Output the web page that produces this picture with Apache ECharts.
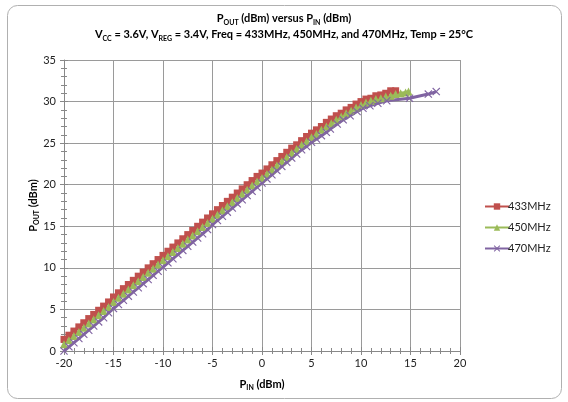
<!DOCTYPE html>
<html>
<head>
<meta charset="utf-8">
<script src="https://cdn.jsdelivr.net/npm/echarts@6/dist/echarts.min.js"></script>
<style>html,body{margin:0;padding:0;background:#fff}#c{width:568px;height:402px}</style>
</head>
<body>
<div id="c"></div>
<script>
// ---- data ----
var pin433 = [-20,-19.5,-19,-18.5,-18,-17.5,-17,-16.5,-16,-15.5,-15,-14.5,-14,-13.5,-13,-12.5,-12,-11.5,-11,-10.5,-10,-9.5,-9,-8.5,-8,-7.5,-7,-6.5,-6,-5.5,-5,-4.5,-4,-3.5,-3,-2.5,-2,-1.5,-1,-0.5,0,0.5,1,1.5,2,2.5,3,3.5,4,4.5,5,5.5,6,6.5,7,7.5,8,8.5,9,9.5,10,10.5,11,11.5,12,12.5,13,13.5];
var pout433 = [1.4,1.9,2.4,2.9,3.4,3.9,4.4,4.9,5.4,5.9,6.5,7.0,7.5,8.0,8.5,9.0,9.5,10.0,10.5,11.0,11.5,12.0,12.5,13.0,13.5,14.0,14.5,15.0,15.5,16.0,16.5,17.0,17.5,18.0,18.5,19.0,19.5,20.0,20.5,21.0,21.4,21.9,22.4,22.9,23.4,23.9,24.4,24.8,25.3,25.8,26.2,26.6,27.0,27.5,27.9,28.3,28.6,29.0,29.3,29.7,30.0,30.3,30.4,30.7,30.8,31.0,31.3,31.3];
var pin450 = [-20,-19.5,-19,-18.5,-18,-17.5,-17,-16.5,-16,-15.5,-15,-14.5,-14,-13.5,-13,-12.5,-12,-11.5,-11,-10.5,-10,-9.5,-9,-8.5,-8,-7.5,-7,-6.5,-6,-5.5,-5,-4.5,-4,-3.5,-3,-2.5,-2,-1.5,-1,-0.5,0,0.5,1,1.5,2,2.5,3,3.5,4,4.5,5,5.5,6,6.5,7,7.5,8,8.5,9,9.5,10,10.5,11,11.5,12,12.5,13,13.5,14,14.5,14.8];
var pout450 = [0.8,1.3,1.8,2.3,2.8,3.3,3.8,4.3,4.8,5.3,5.9,6.4,6.9,7.4,7.9,8.4,8.9,9.4,9.9,10.4,10.9,11.4,11.9,12.4,12.9,13.4,13.9,14.4,14.9,15.4,15.9,16.4,16.9,17.4,17.9,18.4,18.9,19.4,19.9,20.4,20.8,21.3,21.8,22.3,22.8,23.3,23.8,24.3,24.8,25.2,25.7,26.1,26.6,27.0,27.4,27.8,28.2,28.6,28.9,29.3,29.6,29.9,30.1,30.3,30.4,30.6,30.7,30.9,31.0,31.1,31.2];
var pin470 = [-20,-19.5,-19,-18.5,-18,-17.5,-17,-16.5,-16,-15.5,-15,-14.5,-14,-13.5,-13,-12.5,-12,-11.5,-11,-10.5,-10,-9.5,-9,-8.5,-8,-7.5,-7,-6.5,-6,-5.5,-5,-4.5,-4,-3.5,-3,-2.5,-2,-1.5,-1,-0.5,0,0.5,1,1.5,2,2.5,3,3.5,4,4.5,5,5.5,6,6.5,6.9,7.6,8.2,8.9,9.6,10.2,10.9,11.7,12.6,14.9,16.8,17.6];
var pout470 = [0.0,0.5,1.0,1.5,2.0,2.5,3.0,3.5,4.0,4.6,5.1,5.6,6.1,6.6,7.1,7.6,8.1,8.6,9.1,9.6,10.1,10.6,11.1,11.6,12.1,12.6,13.1,13.6,14.1,14.6,15.2,15.7,16.2,16.7,17.2,17.7,18.2,18.7,19.2,19.7,20.2,20.7,21.2,21.7,22.2,22.7,23.2,23.7,24.2,24.6,25.1,25.5,25.9,26.3,26.7,27.3,27.8,28.3,28.8,29.2,29.5,29.8,30.1,30.4,30.9,31.2];
var seriesNames = ['433MHz','450MHz','470MHz'];
var xTicks = {min:-20, max:20, interval:5};
var yTicks = {min:0, max:35, interval:5};

function pairs(xs, ys){ return xs.map(function(x,i){ return [x, ys[i]]; }); }

var FONT = 'Lato';
var crossPath = 'path://M0,1 L1,0 L5,4 L9,0 L10,1 L6,5 L10,9 L9,10 L5,6 L1,10 L0,9 L4,5 Z';
var chart = echarts.init(document.getElementById('c'), null, {renderer:'canvas'});
var subRich = {
  b:{fontFamily:FONT,fontWeight:'bold',fontSize:11,color:'#000',lineHeight:16},
  s:{fontFamily:FONT,fontWeight:'bold',fontSize:7,color:'#000',lineHeight:16,verticalAlign:'bottom',padding:[0,0,0,0]}
};
var axisTitleRich = {
  b:{fontFamily:FONT,fontWeight:'bold',fontSize:11,color:'#000',lineHeight:14},
  s:{fontFamily:FONT,fontWeight:'bold',fontSize:7,color:'#000',lineHeight:14,verticalAlign:'bottom'}
};
var gridLine = {show:true, lineStyle:{color:'#9a9a9a', width:1}};
var baseX = {type:'value', min:xTicks.min, max:xTicks.max, interval:xTicks.interval};
var baseY = {type:'value', min:yTicks.min, max:yTicks.max, interval:yTicks.interval};

chart.setOption({
  animation:false,
  backgroundColor:'#fff',
  graphic:[{type:'rect', shape:{x:7.5,y:5.5,width:554,height:393,r:10}, style:{fill:'none',stroke:'#b0b0b0',lineWidth:1}, z:-1}],
  title:{
    left:'center', top:5,
    text:'{b|P}{s|OUT}{b| (dBm) versus P}{s|IN}{b| (dBm)}\n{b|V}{s|CC}{b| = 3.6V, V}{s|REG}{b| = 3.4V, Freq = 433MHz, 450MHz, and 470MHz, Temp = 25°C}',
    textStyle:{rich:subRich}
  },
  grid:{left:64, top:60, width:396, height:291, containLabel:false},
  legend:{
    orient:'vertical', left:479, top:196, itemWidth:24, itemHeight:8, itemGap:10,
    textStyle:{fontFamily:FONT, fontSize:11, color:'#222', padding:[0,0,0,-6]},
    data:seriesNames
  },
  xAxis:[
    Object.assign({}, baseX, {
      name:'{b|P}{s|IN}{b| (dBm)}', nameLocation:'middle', nameGap:26, nameMoveOverlap:false,
      nameTextStyle:{rich:axisTitleRich},
      axisLine:{show:true, onZero:false, lineStyle:{color:'#888'}},
      axisTick:{show:true, length:4, lineStyle:{color:'#888'}},
      minorTick:{show:true, splitNumber:5, length:3, lineStyle:{color:'#888'}},
      axisLabel:{fontFamily:FONT, fontSize:11, color:'#222', margin:7},
      splitLine:gridLine
    }),
    Object.assign({}, baseX, {
      position:'bottom', show:true,
      axisLine:{show:false, onZero:false},
      axisTick:{show:true, inside:true, length:4, lineStyle:{color:'#888'}},
      minorTick:{show:true, splitNumber:5, length:3, lineStyle:{color:'#888'}},
      axisLabel:{show:false}, splitLine:{show:false}
    })
  ],
  yAxis:[
    Object.assign({}, baseY, {
      name:'{b|P}{s|OUT}{b| (dBm)}', nameLocation:'middle', nameGap:24, nameRotate:90, nameMoveOverlap:false,
      nameTextStyle:{rich:axisTitleRich},
      axisLine:{show:true, onZero:false, lineStyle:{color:'#888'}},
      axisTick:{show:true, length:4, lineStyle:{color:'#888'}},
      minorTick:{show:true, splitNumber:5, length:3, lineStyle:{color:'#888'}},
      axisLabel:{fontFamily:FONT, fontSize:11, color:'#222', margin:8},
      splitLine:gridLine
    }),
    Object.assign({}, baseY, {
      position:'left', show:true,
      axisLine:{show:false, onZero:false},
      axisTick:{show:true, inside:true, length:4, lineStyle:{color:'#888'}},
      minorTick:{show:true, splitNumber:5, length:3, lineStyle:{color:'#888'}},
      axisLabel:{show:false}, splitLine:{show:false}
    })
  ],
  series:[
    {name:seriesNames[0], type:'line', data:pairs(pin433,pout433), symbol:'rect', symbolSize:7,
     color:'#C0504D', lineStyle:{width:3, color:'#C0504D'}, itemStyle:{color:'#C0504D'}},
    {name:seriesNames[1], type:'line', data:pairs(pin450,pout450), symbol:'triangle', symbolSize:8,
     color:'#9BBB59', lineStyle:{width:3, color:'#9BBB59'}, itemStyle:{color:'#9BBB59'}},
    {name:seriesNames[2], type:'line', data:pairs(pin470,pout470), symbol:crossPath, symbolSize:8,
     color:'#8064A2', lineStyle:{width:3, color:'#8064A2'}, itemStyle:{color:'#8064A2'}}
  ]
});
</script>
</body>
</html>
